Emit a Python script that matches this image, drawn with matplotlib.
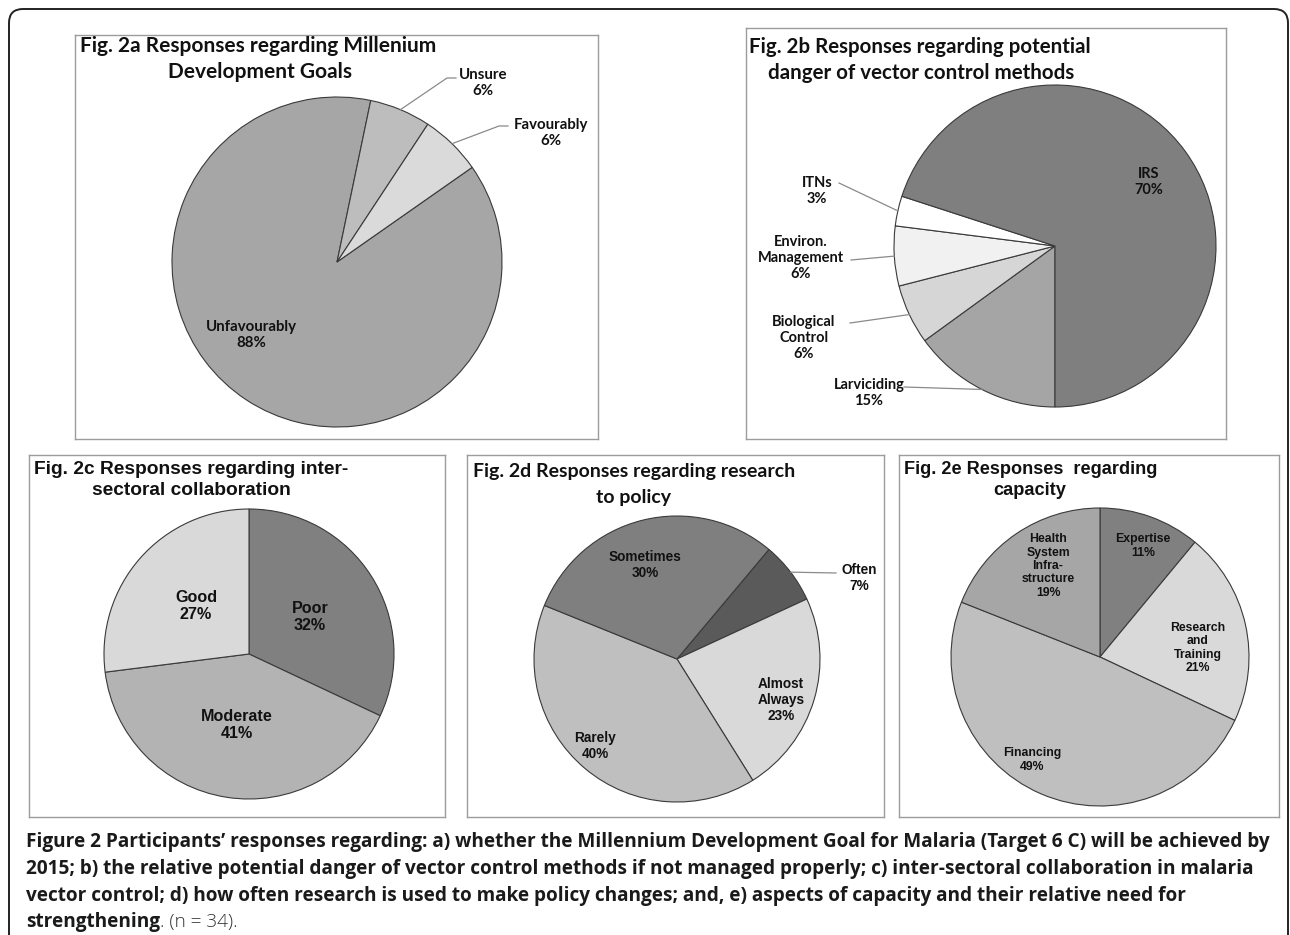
import numpy as np
import matplotlib
matplotlib.use("Agg")
import matplotlib.pyplot as plt
from matplotlib.patches import FancyBboxPatch

W, H = 1290, 935

# Fig. 2a - Millennium Development Goals
a_labels = ["Unfavourably", "Unsure", "Favourably"]
a_values = [88, 6, 6]
a_colors = ["#a6a6a6", "#bdbdbd", "#dadada"]

# Fig. 2b - potential danger of vector control methods
b_labels = ["Larviciding", "Biological\nControl", "Environ.\nManagement", "ITNs", "IRS"]
b_values = [15, 6, 6, 3, 70]
b_colors = ["#a5a5a5", "#d6d6d6", "#f1f1f1", "#ffffff", "#7f7f7f"]

# Fig. 2c - inter-sectoral collaboration
c_labels = ["Poor", "Moderate", "Good"]
c_values = [32, 41, 27]
c_colors = ["#808080", "#b3b3b3", "#d9d9d9"]

# Fig. 2d - research to policy
d_labels = ["Often", "Almost\nAlways", "Rarely", "Sometimes"]
d_values = [7, 23, 40, 30]
d_colors = ["#5a5a5a", "#d9d9d9", "#bfbfbf", "#7f7f7f"]

# Fig. 2e - capacity
e_labels = ["Expertise", "Research\nand\nTraining", "Financing",
            "Health\nSystem\nInfra-\nstructure"]
e_values = [11, 21, 49, 19]
e_colors = ["#808080", "#d9d9d9", "#bfbfbf", "#a6a6a6"]

caption = [
    "Figure 2 Participants\u2019 responses regarding: a) whether the Millennium Development Goal for Malaria (Target 6 C) will be achieved by",
    "2015; b) the relative potential danger of vector control methods if not managed properly; c) inter-sectoral collaboration in malaria",
    "vector control; d) how often research is used to make policy changes; and, e) aspects of capacity and their relative need for",
]
caption_last = "strengthening"
caption_n = ". (n = 34)."

CAL = ["Lato", "DejaVu Sans"]
ARI = ["Liberation Sans", "DejaVu Sans"]
CAP = ["Open Sans", "DejaVu Sans"]

fig = plt.figure(figsize=(W / 100, H / 100), dpi=100)

# outer frame
bg = fig.add_axes([0, 0, 1, 1], zorder=-5)
bg.set_xlim(0, W)
bg.set_ylim(0, H)
bg.axis("off")
bg.add_patch(FancyBboxPatch((9, -60), 1279, H - 9 + 60,
                            boxstyle="round,pad=0,rounding_size=14",
                            fc="white", ec="#222222", lw=1.4))


def pie_panel(box, values, colors, center, r, start):
    x0, y0, x1, y1 = box
    ax = fig.add_axes([x0 / W, 1 - y1 / H, (x1 - x0) / W, (y1 - y0) / H])
    wedges, _ = ax.pie(values, colors=colors, startangle=start, counterclock=False,
                       center=(center[0], H - center[1]), radius=r,
                       wedgeprops=dict(edgecolor="#3a3a3a", linewidth=0.8))
    ax.set_aspect("auto")
    ax.set_xlim(x0, x1)
    ax.set_ylim(H - y1, H - y0)
    ax.set_frame_on(True)
    for s in ax.spines.values():
        s.set_color("#9c9c9c")
        s.set_linewidth(1.0)
    ax.set_xticks([])
    ax.set_yticks([])
    return ax, wedges


def txt(ax, x, y, s, size, fam, ha="center", **kw):
    ax.text(x, H - y, s, ha=ha, va="center", fontsize=size, family=fam,
            fontweight="bold", linespacing=1.15, color="#111111", **kw)


def rim(w, frac=1.0):
    t = np.deg2rad((w.theta1 + w.theta2) / 2)
    return w.center[0] + frac * w.r * np.cos(t), w.center[1] + frac * w.r * np.sin(t)


def leader(ax, pts_px, w):
    ex, ey = rim(w)
    xs = [p[0] for p in pts_px] + [ex]
    ys = [H - p[1] for p in pts_px] + [ey]
    ax.plot(xs, ys, color="#8a8a8a", lw=0.9)


def pct(v):
    return f"{v}%"


# ---- panel a
ax, w = pie_panel((75, 35, 598, 439), a_values, a_colors, (337, 262), 165, 35)
txt(ax, 80, 46, "Fig. 2a Responses regarding Millenium", 15, CAL, ha="left")
txt(ax, 260, 72, "Development Goals", 15, CAL)
txt(ax, 251, 335, a_labels[0] + "\n" + pct(a_values[0]), 10.8, CAL)
txt(ax, 483, 83, a_labels[1] + "\n" + pct(a_values[1]), 10.8, CAL)
txt(ax, 551, 133, a_labels[2] + "\n" + pct(a_values[2]), 10.8, CAL)
leader(ax, [(456, 78), (447, 78)], w[1])
leader(ax, [(508, 126), (499, 126)], w[2])

# ---- panel b
ax, w = pie_panel((746, 28, 1226, 439), b_values, b_colors, (1055, 246), 161, -90)
txt(ax, 749, 47, "Fig. 2b Responses regarding potential", 14.8, CAL, ha="left")
txt(ax, 768, 73, "danger of vector control methods", 14.8, CAL, ha="left")
txt(ax, 1149, 182, b_labels[4] + "\n" + pct(b_values[4]), 10.5, CAL)
txt(ax, 817, 191, b_labels[3] + "\n" + pct(b_values[3]), 10.5, CAL)
txt(ax, 801, 258, b_labels[2] + "\n" + pct(b_values[2]), 10.5, CAL)
txt(ax, 804, 338, b_labels[1] + "\n" + pct(b_values[1]), 10.5, CAL)
txt(ax, 869, 393, b_labels[0] + "\n" + pct(b_values[0]), 10.5, CAL)
leader(ax, [(839, 183)], w[3])
leader(ax, [(851, 260)], w[2])
leader(ax, [(850, 323)], w[1])
leader(ax, [(904, 387)], w[0])

# ---- panel c
ax, w = pie_panel((29, 455, 445, 817), c_values, c_colors, (249, 654), 145, 90)
txt(ax, 34, 470, "Fig. 2c Responses regarding inter-", 13.8, ARI, ha="left")
txt(ax, 92, 491, "sectoral collaboration", 13.8, ARI, ha="left")
txt(ax, 310, 617, c_labels[0] + "\n" + pct(c_values[0]), 11.6, ARI)
txt(ax, 237, 725, c_labels[1] + "\n" + pct(c_values[1]), 11.6, ARI)
txt(ax, 196, 606, c_labels[2] + "\n" + pct(c_values[2]), 11.6, ARI)

# ---- panel d
ax, w = pie_panel((467, 455, 884, 817), d_values, d_colors, (677, 659), 143, 50)
txt(ax, 473, 472, "Fig. 2d Responses regarding research", 14, CAL, ha="left")
txt(ax, 634, 498, "to policy", 14, CAL)
txt(ax, 859, 578, d_labels[0] + "\n" + pct(d_values[0]), 9.8, ARI)
txt(ax, 781, 700, d_labels[1] + "\n" + pct(d_values[1]), 9.8, ARI)
txt(ax, 595, 746, d_labels[2] + "\n" + pct(d_values[2]), 9.8, ARI)
txt(ax, 645, 565, d_labels[3] + "\n" + pct(d_values[3]), 9.8, ARI)
leader(ax, [(836, 573)], w[0])

# ---- panel e
ax, w = pie_panel((899, 455, 1279, 817), e_values, e_colors, (1100, 657), 149, 90)
txt(ax, 904, 470, "Fig. 2e Responses  regarding", 13.1, ARI, ha="left")
txt(ax, 1030, 491, "capacity", 13.1, ARI)
txt(ax, 1143, 546, e_labels[0] + "\n" + pct(e_values[0]), 8.8, ARI)
txt(ax, 1198, 648, e_labels[1] + "\n" + pct(e_values[1]), 8.8, ARI)
txt(ax, 1032, 760, e_labels[2] + "\n" + pct(e_values[2]), 8.8, ARI)
txt(ax, 1048, 566, e_labels[3] + "\n" + pct(e_values[3]), 8.8, ARI)

# ---- caption
renderer = fig.canvas.get_renderer()
probe = fig.text(0, 0, caption[0], fontsize=14, family=CAP, fontweight="bold")
cw = probe.get_window_extent(renderer).width
probe.remove()
fs = 14 * 1250 / cw
x0 = 26

ys = [842, 869, 896, 922]
for line, y in zip(caption, ys):
    fig.text(x0 / W, 1 - y / H, line, fontsize=fs, family=CAP, fontweight="bold",
             va="center", color="#1a1a1a")
t = fig.text(x0 / W, 1 - ys[3] / H, caption_last, fontsize=fs, family=CAP,
             fontweight="bold", va="center", color="#1a1a1a")
tw = t.get_window_extent(renderer).width
fig.text((x0 + tw) / W, 1 - ys[3] / H, caption_n, fontsize=fs, family=CAP,
         fontweight="light", va="center", color="#333333")

fig.savefig("out.png", dpi=100)
